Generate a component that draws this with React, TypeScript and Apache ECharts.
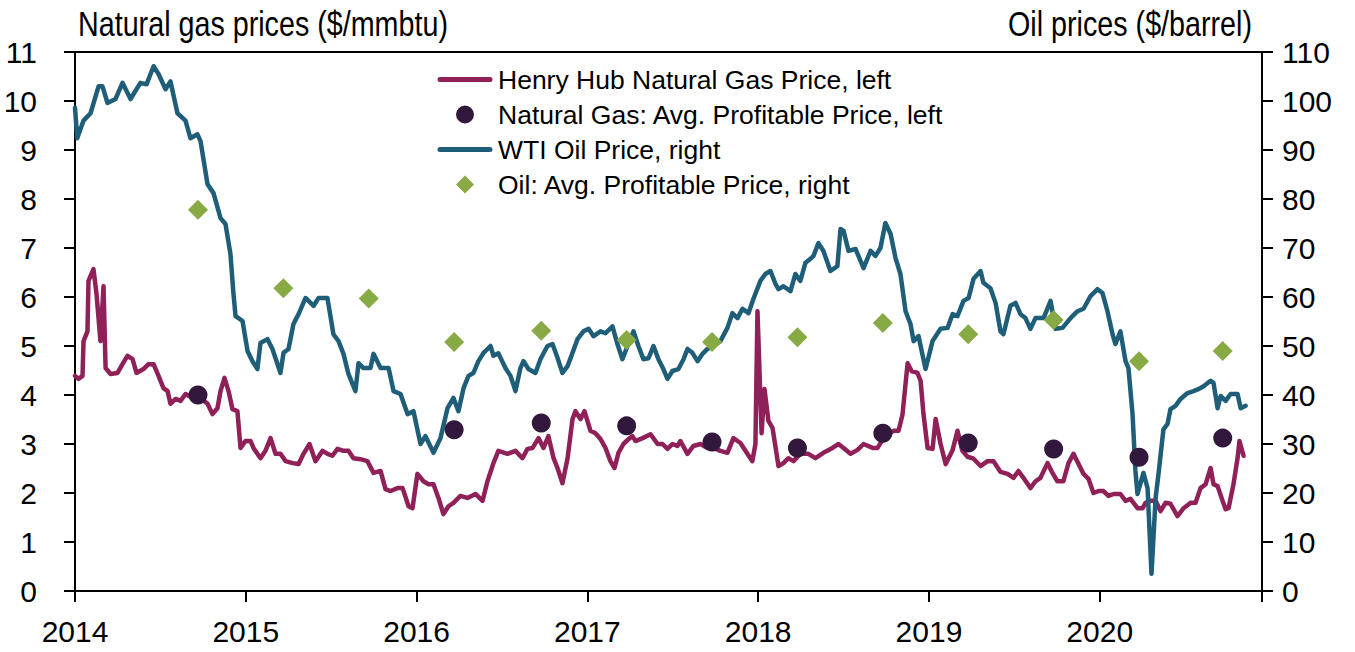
import React, { useEffect, useRef } from "react";
import * as echarts from "echarts";

const FONT = "'Liberation Sans', Arial, sans-serif";

const xTickYears = [2014, 2015, 2016, 2017, 2018, 2019, 2020];

// Henry Hub natural gas price ($/mmbtu): [decimal year, value]
const gasPrice: [number, number][] = [
  [2014.0, 4.39], [2014.02, 4.33], [2014.044, 4.39], [2014.05, 5.1], [2014.073, 5.3], [2014.079, 6.33],
  [2014.108, 6.57], [2014.126, 6.06], [2014.149, 5.1], [2014.167, 6.22], [2014.179, 4.55], [2014.208, 4.43],
  [2014.249, 4.45], [2014.278, 4.63], [2014.307, 4.8], [2014.337, 4.73], [2014.36, 4.45], [2014.401, 4.53],
  [2014.43, 4.63], [2014.46, 4.63], [2014.489, 4.39], [2014.518, 4.14], [2014.542, 4.08], [2014.559, 3.82],
  [2014.589, 3.92], [2014.618, 3.88], [2014.647, 4.02], [2014.688, 3.94], [2014.735, 3.94], [2014.776, 3.82],
  [2014.805, 3.61], [2014.834, 3.73], [2014.852, 4.08], [2014.875, 4.35], [2014.899, 4.08], [2014.922, 3.71],
  [2014.951, 3.67], [2014.969, 2.92], [2014.998, 3.06], [2015.028, 3.06], [2015.045, 2.92], [2015.086, 2.71],
  [2015.115, 2.86], [2015.145, 3.12], [2015.174, 2.8], [2015.203, 2.8], [2015.233, 2.65], [2015.274, 2.61],
  [2015.309, 2.59], [2015.338, 2.8], [2015.373, 3.0], [2015.408, 2.65], [2015.449, 2.86], [2015.478, 2.8],
  [2015.507, 2.76], [2015.537, 2.9], [2015.572, 2.86], [2015.601, 2.86], [2015.63, 2.71], [2015.671, 2.69],
  [2015.712, 2.65], [2015.748, 2.41], [2015.789, 2.45], [2015.818, 2.08], [2015.848, 2.04], [2015.888, 2.1],
  [2015.918, 2.1], [2015.953, 1.73], [2015.976, 1.69], [2016.005, 2.39], [2016.04, 2.24], [2016.07, 2.18],
  [2016.099, 2.18], [2016.128, 1.9], [2016.157, 1.57], [2016.187, 1.73], [2016.216, 1.8], [2016.257, 1.94],
  [2016.298, 1.9], [2016.345, 1.98], [2016.386, 1.84], [2016.415, 2.24], [2016.45, 2.61], [2016.479, 2.86],
  [2016.532, 2.8], [2016.579, 2.86], [2016.62, 2.71], [2016.649, 2.9], [2016.679, 2.92], [2016.714, 3.12],
  [2016.743, 2.92], [2016.772, 3.16], [2016.802, 2.71], [2016.825, 2.51], [2016.854, 2.2], [2016.884, 2.71],
  [2016.913, 3.51], [2016.93, 3.67], [2016.96, 3.51], [2016.983, 3.67], [2017.018, 3.27], [2017.047, 3.22],
  [2017.077, 3.1], [2017.106, 2.92], [2017.135, 2.65], [2017.159, 2.51], [2017.182, 2.82], [2017.211, 3.0],
  [2017.241, 3.1], [2017.264, 3.16], [2017.282, 3.06], [2017.323, 3.12], [2017.37, 3.2], [2017.411, 3.0],
  [2017.44, 3.0], [2017.469, 2.9], [2017.498, 3.0], [2017.527, 2.96], [2017.545, 3.06], [2017.586, 2.8],
  [2017.621, 2.96], [2017.662, 3.0], [2017.703, 2.92], [2017.738, 2.92], [2017.779, 2.86], [2017.82, 2.82],
  [2017.855, 3.12], [2017.896, 3.02], [2017.937, 2.8], [2017.966, 2.65], [2017.984, 3.0], [2017.996, 5.71],
  [2018.02, 3.22], [2018.037, 4.12], [2018.06, 3.47], [2018.084, 3.33], [2018.119, 2.55], [2018.148, 2.61],
  [2018.177, 2.71], [2018.207, 2.65], [2018.247, 2.8], [2018.294, 2.8], [2018.335, 2.71], [2018.382, 2.82],
  [2018.435, 2.92], [2018.47, 3.0], [2018.5, 2.92], [2018.541, 2.8], [2018.582, 2.88], [2018.617, 3.0],
  [2018.67, 2.92], [2018.699, 2.92], [2018.734, 3.12], [2018.793, 3.27], [2018.822, 3.27], [2018.845, 3.6],
  [2018.875, 4.65], [2018.898, 4.49], [2018.933, 4.45], [2018.951, 4.29], [2018.968, 3.61], [2018.992, 2.92],
  [2019.021, 2.9], [2019.039, 3.51], [2019.068, 3.0], [2019.098, 2.59], [2019.138, 2.87], [2019.167, 3.27],
  [2019.196, 2.86], [2019.226, 2.74], [2019.261, 2.7], [2019.302, 2.55], [2019.343, 2.65], [2019.378, 2.65],
  [2019.419, 2.43], [2019.46, 2.39], [2019.495, 2.31], [2019.524, 2.45], [2019.553, 2.31], [2019.594, 2.1],
  [2019.624, 2.24], [2019.653, 2.31], [2019.694, 2.61], [2019.723, 2.41], [2019.752, 2.24], [2019.787, 2.24],
  [2019.817, 2.61], [2019.846, 2.8], [2019.876, 2.59], [2019.905, 2.39], [2019.934, 2.29], [2019.963, 2.0],
  [2019.993, 2.04], [2020.022, 2.04], [2020.051, 1.94], [2020.081, 1.98], [2020.121, 1.98], [2020.151, 1.84],
  [2020.18, 1.88], [2020.221, 1.69], [2020.251, 1.69], [2020.268, 1.8], [2020.297, 1.84], [2020.327, 1.84],
  [2020.356, 1.63], [2020.385, 1.8], [2020.414, 1.78], [2020.455, 1.53], [2020.491, 1.69], [2020.532, 1.8],
  [2020.561, 1.8], [2020.59, 2.1], [2020.62, 2.18], [2020.649, 2.51], [2020.666, 2.18], [2020.69, 2.14],
  [2020.719, 1.84], [2020.737, 1.67], [2020.754, 1.69], [2020.783, 2.18], [2020.807, 2.71], [2020.818, 3.06],
  [2020.842, 2.76],
];

// WTI oil price ($/barrel): [decimal year, value]
const oilPrice: [number, number][] = [
  [2014.0, 98.6], [2014.013, 92.4], [2014.05, 96], [2014.091, 97.5], [2014.138, 103], [2014.161, 103],
  [2014.19, 99.6], [2014.237, 100.4], [2014.278, 103.7], [2014.325, 100.4], [2014.383, 103.7], [2014.419, 103.4],
  [2014.46, 107.1], [2014.489, 105.5], [2014.53, 102.4], [2014.559, 104], [2014.6, 97.5], [2014.647, 96],
  [2014.676, 92.4], [2014.717, 93.2], [2014.735, 91.8], [2014.776, 83], [2014.811, 81.2], [2014.852, 76.1],
  [2014.881, 74.9], [2014.91, 68.8], [2014.928, 60.6], [2014.94, 56.1], [2014.981, 55.1], [2015.01, 49],
  [2015.039, 46.9], [2015.068, 45.3], [2015.086, 50.6], [2015.127, 51.4], [2015.156, 49.4], [2015.203, 44.5],
  [2015.221, 48.6], [2015.25, 49.4], [2015.279, 54.5], [2015.309, 56.5], [2015.35, 59.8], [2015.397, 58.2],
  [2015.426, 59.8], [2015.478, 59.8], [2015.513, 52.4], [2015.543, 51], [2015.572, 48.4], [2015.601, 44.3],
  [2015.642, 40.8], [2015.66, 46.5], [2015.689, 45.5], [2015.73, 45.5], [2015.748, 48.4], [2015.789, 45.5],
  [2015.836, 45.5], [2015.865, 40.8], [2015.906, 40.2], [2015.947, 36.1], [2015.982, 36.7], [2016.023, 30],
  [2016.052, 31.6], [2016.099, 28.2], [2016.14, 31.2], [2016.181, 37.3], [2016.216, 39.4], [2016.245, 36.7],
  [2016.275, 41.4], [2016.304, 43.9], [2016.333, 44.5], [2016.362, 46.9], [2016.392, 48.6], [2016.433, 50],
  [2016.45, 48], [2016.479, 48.5], [2016.52, 45.5], [2016.55, 43.9], [2016.579, 40.8], [2016.608, 45.5],
  [2016.626, 46.9], [2016.655, 45.3], [2016.696, 44.5], [2016.725, 47.3], [2016.766, 50], [2016.796, 50.4],
  [2016.825, 47.6], [2016.854, 44.5], [2016.884, 45.9], [2016.913, 48.6], [2016.942, 51.4], [2016.977, 53],
  [2017.007, 53.5], [2017.036, 52], [2017.077, 53], [2017.106, 52.6], [2017.147, 54], [2017.176, 50.4],
  [2017.205, 47.3], [2017.235, 50], [2017.27, 53], [2017.299, 50], [2017.328, 47.3], [2017.358, 47.5],
  [2017.387, 50], [2017.416, 47.3], [2017.445, 45.3], [2017.469, 43.3], [2017.498, 44.9], [2017.533, 45.3],
  [2017.563, 47.3], [2017.586, 49.4], [2017.615, 48.6], [2017.645, 46.9], [2017.674, 48.4], [2017.703, 49.4],
  [2017.738, 50], [2017.779, 51], [2017.82, 53.7], [2017.849, 56.7], [2017.879, 55.7], [2017.908, 57.6],
  [2017.943, 56.7], [2017.972, 59.6], [2018.013, 63.3], [2018.042, 64.7], [2018.072, 65.3], [2018.101, 62.7],
  [2018.119, 61.6], [2018.148, 62.2], [2018.189, 61.2], [2018.218, 64.7], [2018.247, 63.3], [2018.277, 67],
  [2018.306, 67.8], [2018.324, 68.4], [2018.353, 71], [2018.382, 69.4], [2018.423, 65.3], [2018.464, 66.3],
  [2018.482, 73.9], [2018.5, 73.5], [2018.529, 69.4], [2018.57, 69.8], [2018.617, 65.9], [2018.658, 69.4],
  [2018.687, 68.4], [2018.716, 70], [2018.745, 75.1], [2018.775, 72.9], [2018.804, 68], [2018.833, 64.7],
  [2018.863, 57.1], [2018.892, 54.5], [2018.91, 51], [2018.939, 52], [2018.98, 45.3], [2019.021, 51],
  [2019.068, 53.5], [2019.109, 53.7], [2019.138, 56.5], [2019.167, 56.1], [2019.202, 59.2], [2019.232, 59.8],
  [2019.261, 63.7], [2019.302, 65.3], [2019.319, 62.9], [2019.36, 61.8], [2019.39, 58.8], [2019.419, 53],
  [2019.436, 52.4], [2019.477, 58.2], [2019.507, 58.8], [2019.536, 56.5], [2019.565, 55.7], [2019.594, 53.5],
  [2019.624, 55.7], [2019.671, 55.7], [2019.712, 59.2], [2019.741, 53.5], [2019.782, 53.7], [2019.829, 55.7],
  [2019.87, 57.1], [2019.905, 57.6], [2019.946, 60.2], [2019.987, 61.6], [2020.016, 60.8], [2020.045, 57.1],
  [2020.075, 52.4], [2020.092, 50.4], [2020.121, 53], [2020.151, 46.9], [2020.168, 45.5], [2020.192, 36.1],
  [2020.209, 24.5], [2020.221, 19.8], [2020.239, 22], [2020.256, 24.1], [2020.28, 21], [2020.303, 3.5],
  [2020.327, 19], [2020.344, 23.9], [2020.373, 33], [2020.397, 34.1], [2020.414, 37.1], [2020.444, 37.8],
  [2020.473, 39.2], [2020.514, 40.4], [2020.549, 40.8], [2020.578, 41.2], [2020.608, 41.8], [2020.649, 42.9],
  [2020.666, 42.5], [2020.69, 37.3], [2020.708, 39.8], [2020.737, 38.8], [2020.766, 40.2], [2020.807, 40.2],
  [2020.825, 37.3], [2020.854, 37.8],
];

// Survey dates (decimal years) and average profitable prices
const surveyDates = [2014.72, 2015.22, 2015.72, 2016.22, 2016.73, 2017.23, 2017.73, 2018.23, 2018.73, 2019.23, 2019.73, 2020.23, 2020.72];
const gasProfitable: (number | null)[] = [4.0, null, null, 3.29, 3.43, 3.37, 3.04, 2.92, 3.22, 3.02, 2.9, 2.73, 3.12];
const oilProfitable: number[] = [77.8, 61.8, 59.7, 50.8, 53.1, 51.2, 50.8, 51.8, 54.7, 52.4, 55.3, 46.9, 49.0];

const GAS_COLOR = "#8F2058";
const OIL_COLOR = "#1F5E79";
const DOT_COLOR = "#33183D";
const DIAMOND_COLOR = "#88AA44";

// legend icons (56 x 18 box)
const LINE_ICON = "path://M0,0 L0.01,0 M56,18 L55.99,18 M3,6.5 L53,6.5 A2.5,2.5 0 0 1 53,11.5 L3,11.5 A2.5,2.5 0 0 1 3,6.5 Z";
const DIAMOND_ICON = "path://M0,0 L0.01,0 M56,18 L55.99,18 M28,0 L37,9 L28,18 L19,9 Z";
const CIRCLE_ICON = "path://M0,0 L0.01,0 M56,18 L55.99,18 M19,9 A9,9 0 1 1 37,9 A9,9 0 1 1 19,9 Z";

export default function App() {
  const ref = useRef<HTMLDivElement>(null);

  useEffect(() => {
    if (!ref.current) return;
    const chart = echarts.init(ref.current, undefined, { renderer: "svg" });
    const axisLine = { show: true, lineStyle: { color: "#000", width: 2 } };
    const axisTick = { show: true, inside: false, length: 11, lineStyle: { color: "#000", width: 2 } };
    const labelStyle = { color: "#000", fontFamily: FONT, fontSize: 30 };

    chart.setOption({
      animation: false,
      backgroundColor: "#fff",
      grid: { left: 75, right: 93, top: 52, bottom: 61, show: true, borderColor: "#000", borderWidth: 2 },
      legend: {
        orient: "vertical",
        left: 437,
        top: 66,
        padding: 0,
        itemWidth: 56,
        itemHeight: 18,
        itemGap: 8,
        symbolKeepAspect: true,
        textStyle: { color: "#000", fontFamily: FONT, fontSize: 26.5 },
        data: [
          { name: "Henry Hub Natural Gas Price, left", icon: LINE_ICON },
          { name: "Natural Gas: Avg. Profitable Price, left", icon: CIRCLE_ICON },
          { name: "WTI Oil Price, right", icon: LINE_ICON },
          { name: "Oil: Avg. Profitable Price, right", icon: DIAMOND_ICON },
        ],
      },
      graphic: [
        {
          type: "text",
          x: 78,
          y: 6,
          scaleX: 0.82,
          style: { text: "Natural gas prices ($/mmbtu)", fill: "#000", font: `35px ${FONT}`, textVerticalAlign: "top" },
        },
        {
          type: "text",
          x: 1252,
          y: 6,
          scaleX: 0.82,
          style: { text: "Oil prices ($/barrel)", fill: "#000", font: `35px ${FONT}`, textAlign: "right", textVerticalAlign: "top" },
        },
      ],
      xAxis: {
        type: "value",
        min: 2014,
        max: 2020.95,
        interval: 1,
        axisLine,
        axisTick,
        splitLine: { show: false },
        axisLabel: {
          ...labelStyle,
          margin: 25,
          formatter: (v: number) => (xTickYears.includes(Math.round(v * 1000) / 1000) ? String(v) : ""),
        },
      },
      yAxis: [
        {
          type: "value",
          min: 0,
          max: 11,
          interval: 1,
          position: "left",
          axisLine,
          axisTick,
          splitLine: { show: false },
          axisLabel: { ...labelStyle, margin: 38 },
        },
        {
          type: "value",
          min: 0,
          max: 110,
          interval: 10,
          position: "right",
          axisLine,
          axisTick,
          splitLine: { show: false },
          axisLabel: { ...labelStyle, margin: 20 },
        },
      ],
      series: [
        {
          name: "Henry Hub Natural Gas Price, left",
          type: "line",
          yAxisIndex: 0,
          data: gasPrice,
          symbol: "none",
          lineStyle: { color: GAS_COLOR, width: 4.5, cap: "round", join: "round" },
          itemStyle: { color: GAS_COLOR },
          z: 2,
        },
        {
          name: "Natural Gas: Avg. Profitable Price, left",
          type: "scatter",
          yAxisIndex: 0,
          data: surveyDates.map((d, i) => [d, gasProfitable[i]]).filter((p) => p[1] !== null),
          symbol: "circle",
          symbolSize: 19,
          itemStyle: { color: DOT_COLOR, opacity: 1 },
          z: 5,
        },
        {
          name: "WTI Oil Price, right",
          type: "line",
          yAxisIndex: 1,
          data: oilPrice,
          symbol: "none",
          lineStyle: { color: OIL_COLOR, width: 4.5, cap: "round", join: "round" },
          itemStyle: { color: OIL_COLOR },
          z: 3,
        },
        {
          name: "Oil: Avg. Profitable Price, right",
          type: "scatter",
          yAxisIndex: 1,
          data: surveyDates.map((d, i) => [d, oilProfitable[i]]),
          symbol: "diamond",
          symbolSize: 20,
          itemStyle: { color: DIAMOND_COLOR, opacity: 1 },
          z: 5,
        },
      ],
    });
    return () => chart.dispose();
  }, []);

  return (
    <div
      ref={ref}
      style={{ position: "fixed", left: 0, top: 0, width: 1355, height: 652, background: "#fff" }}
    />
  );
}
